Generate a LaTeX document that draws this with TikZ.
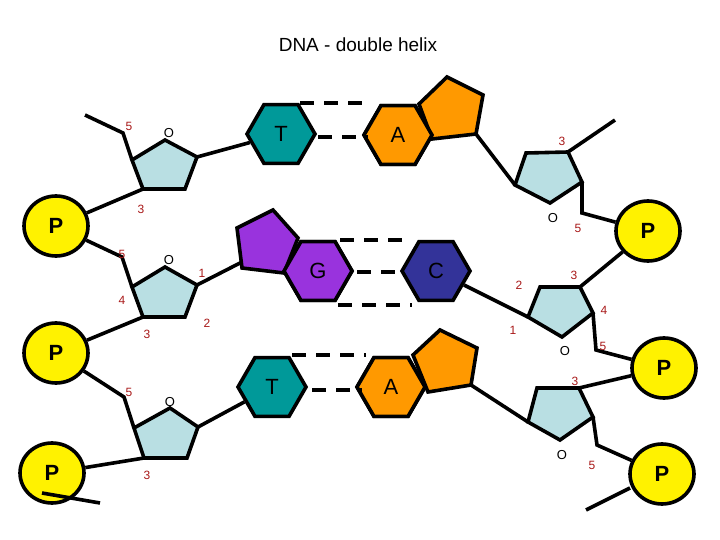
\documentclass[tikz,border=0pt]{standalone}
\usepackage{fontspec}
\setmainfont{Liberation Sans}
\usetikzlibrary{shapes.geometric}
\begin{document}
\begin{tikzpicture}[x=1pt,y=-1pt,line width=3.6pt,line join=miter,
  sugar/.style={draw,fill=sugarc},
  hexb/.style={draw,regular polygon,regular polygon sides=6,minimum size=68pt,inner sep=0pt,font=\fontsize{22}{22}\selectfont},
  ppl/.style={draw,fill=yellow,ellipse,minimum width=64pt,minimum height=60pt,inner sep=0pt,font=\bfseries\fontsize{22}{22}\selectfont},
  num/.style={text=numc,font=\fontsize{12}{12}\selectfont,inner sep=0pt},
  oo/.style={font=\fontsize{13}{13}\selectfont,inner sep=0pt},
  hb/.style={dash pattern=on 14pt off 10pt,line width=4pt}]
\definecolor{sugarc}{HTML}{B9DFE3}
\definecolor{numc}{HTML}{A81818}
\definecolor{tealc}{HTML}{009999}
\definecolor{orc}{HTML}{FF9900}
\definecolor{purc}{HTML}{9933DD}
\definecolor{cbl}{HTML}{333399}
\useasboundingbox (0,0) rectangle (720,540);
\node[font=\fontsize{19}{19}\selectfont] (title) at (358,45) {DNA - double helix};
% P groups
\node[ppl] (P1) at (56,226) {P};
\node[ppl] (P2) at (56,353) {P};
\node[ppl] (P3) at (52,473) {P};
\node[ppl] (P4) at (648,231) {P};
\node[ppl] (P5) at (664,368) {P};
\node[ppl] (P6) at (662,474) {P};
% bases
\node[hexb,fill=tealc] (T1) at (281,134) {T};
\node[hexb,fill=orc] (A1) at (398,135) {A};
\node[hexb,fill=purc] (G) at (318,271) {G};
\node[hexb,fill=cbl] (C) at (436,271) {C};
\node[hexb,fill=tealc] (T2) at (272,387) {T};
\node[hexb,fill=orc] (A2) at (391,387) {A};
% purine rings
\draw[fill=orc] (419,104) -- (447,77) -- (483,95) -- (476,134) -- (432,139) -- cycle;
\draw[fill=purc] (237,228) -- (273,210) -- (298,238) -- (284,273) -- (242,268) -- cycle;
\draw[fill=orc] (413,355) -- (440,330) -- (477,348) -- (471,385) -- (428,392) -- cycle;
\node[hexb,fill=orc] at (398,135) {A};
\node[hexb,fill=purc] at (318,271) {G};
\node[hexb,fill=orc] at (391,387) {A};
% hydrogen bonds
\draw[hb] (300,103) -- (372,103);
\draw[hb] (318,137) -- (368,137);
\draw[hb] (340,240) -- (412,240);
\draw[hb] (357,272) -- (405,272);
\draw[hb] (338,305) -- (412,305);
\draw[hb] (292,355) -- (366,355);
\draw[hb] (312,390) -- (362,390);
% sugars
\draw[sugar] (165,140) coordinate (s1t) -- (197,157) coordinate (s1r) -- (185,189) -- (143,189) coordinate (s1b) -- (132,160) coordinate (s1l) -- cycle;
\draw[sugar] (165,267) coordinate (s2t) -- (197,285) coordinate (s2r) -- (185,317) -- (143,317) coordinate (s2b) -- (132,287) coordinate (s2l) -- cycle;
\draw[sugar] (170,408) coordinate (s3t) -- (198,427) coordinate (s3r) -- (187,458) -- (144,458) coordinate (s3b) -- (134,428) coordinate (s3l) -- cycle;
\draw[sugar] (515,185) coordinate (s4l) -- (526,153) -- (568,152) coordinate (s4t) -- (582,182) coordinate (s4r) -- (550,203) -- cycle;
\draw[sugar] (528,317) coordinate (s5l) -- (540,287) -- (580,287) coordinate (s5t) -- (593,313) coordinate (s5r) -- (562,337) -- cycle;
\draw[sugar] (528,422) coordinate (s6l) -- (537,388) -- (579,388) coordinate (s6t) -- (593,417) coordinate (s6r) -- (560,440) -- cycle;
% backbone left
\draw (s1l) -- (123,133) -- (85,115);
\draw (s1b) -- (P1);
\draw (s1r) -- (T1);
\draw (s2l) -- (122,257) -- (P1);
\draw (s2r) -- (242,262);
\draw (s2b) -- (P2);
\draw (s3l) -- (124,397) -- (P2);
\draw (s3r) -- (T2);
\draw (s3b) -- (P3);
\draw (P3) ++(-10,20) coordinate (st3) -- (100,503);
% backbone right
\draw (476,134) -- (s4l);
\draw (s4t) -- (615,120);
\draw (s4r) -- (582,213) -- (P4);
\draw (C) -- (s5l);
\draw (s5t) -- (P4);
\draw (s5r) -- (596,350) -- (P5);
\draw (471,385) -- (s6l);
\draw (s6t) -- (P5);
\draw (s6r) -- (597,445) -- (P6);
\draw (630,488) -- (586,510);
% ring oxygens
\node[oo] (o1) at (169,133) {O};
\node[oo] (o2) at (169,260) {O};
\node[oo] (o3) at (170,402) {O};
\node[oo] (o4) at (553,218) {O};
\node[oo] (o5) at (565,351) {O};
\node[oo] (o6) at (562,455) {O};
% numbers
\node[num] at (129,126) {5};
\node[num] at (141,209) {3};
\node[num] at (122,254) {5};
\node[num] at (202,273) {1};
\node[num] at (122,300) {4};
\node[num] at (147,334) {3};
\node[num] at (207,323) {2};
\node[num] at (129,392) {5};
\node[num] at (147,475) {3};
\node[num] at (562,141) {3};
\node[num] at (578,228) {5};
\node[num] at (519,285) {2};
\node[num] at (574,275) {3};
\node[num] at (604,310) {4};
\node[num] at (513,330) {1};
\node[num] at (603,346) {5};
\node[num] at (575,381) {3};
\node[num] at (592,465) {5};
\end{tikzpicture}
\end{document}
